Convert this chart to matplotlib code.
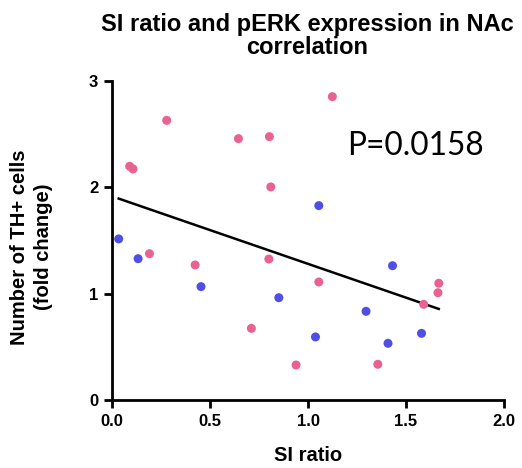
import numpy as np
import matplotlib
matplotlib.use("Agg")
import matplotlib.pyplot as plt

# Data
pink_x = [1.124, 0.279, 0.645, 0.803, 0.090, 0.107, 0.810, 0.191, 0.424, 0.800,
          1.055, 0.711, 0.939, 1.356, 1.590, 1.667, 1.663]
pink_y = [2.853, 2.630, 2.458, 2.477, 2.198, 2.173, 2.004, 1.376, 1.270, 1.326,
          1.110, 0.674, 0.329, 0.336, 0.900, 1.098, 1.009]
blue_x = [1.055, 0.034, 0.133, 0.454, 0.851, 1.431, 1.296, 1.038, 1.408, 1.579]
blue_y = [1.828, 1.515, 1.329, 1.066, 0.962, 1.263, 0.834, 0.593, 0.533, 0.627]
x_ticks = [0.0, 0.5, 1.0, 1.5, 2.0]
x_ticklabels = ["0.0", "0.5", "1.0", "1.5", "2.0"]
y_ticks = [0, 1, 2, 3]
y_ticklabels = ["0", "1", "2", "3"]
p_text = "P=0.0158"

plt.rcParams['font.family'] = ['Liberation Sans', 'DejaVu Sans']

fig = plt.figure(figsize=(5.22, 4.68), dpi=100)
ax = fig.add_axes([0.2146, 0.1453, 0.751, 0.6816])

all_x = np.array(pink_x + blue_x)
all_y = np.array(pink_y + blue_y)
slope, intercept = np.polyfit(all_x, all_y, 1)
lx = np.array([all_x.min(), all_x.max()])
ax.plot(lx, slope * lx + intercept, color='black', lw=1.8, zorder=2)

ax.scatter(pink_x, pink_y, s=42, color='#E8638E', edgecolors='none', zorder=3)
ax.scatter(blue_x, blue_y, s=42, color='#4F4FE6', edgecolors='none', zorder=3)

ax.set_xlim(0, 2)
ax.set_ylim(0, 3)
ax.set_xticks(x_ticks)
ax.set_xticklabels(x_ticklabels)
ax.set_yticks(y_ticks)
ax.set_yticklabels(y_ticklabels)
for lbl in ax.get_xticklabels() + ax.get_yticklabels():
    lbl.set_fontweight('bold')
    lbl.set_fontsize(12)
ax.tick_params(direction='out', length=6, width=2, pad=4)
for s in ['top', 'right']:
    ax.spines[s].set_visible(False)
for s in ['left', 'bottom']:
    ax.spines[s].set_linewidth(2)
ax.spines['left'].set_capstyle('projecting')

ax.set_xlabel("SI ratio", fontsize=14.5, fontweight='bold')
ax.xaxis.set_label_coords(0.5, -0.143)
ax.set_ylabel("Number of TH+ cells\n(fold change)", fontsize=14.5, fontweight='bold',
              linespacing=1.35)
ax.yaxis.set_label_coords(-0.15, 0.48)
fig.text(0.588, 0.972, "SI ratio and pERK expression in NAc\ncorrelation",
         ha='center', va='top', fontsize=17, fontweight='bold', linespacing=1.0)

ax.text(1.2, 2.39, p_text, fontsize=22.8, family=['Lato', 'DejaVu Sans'], ha='left', va='center')

fig.savefig("out.png", dpi=100)
